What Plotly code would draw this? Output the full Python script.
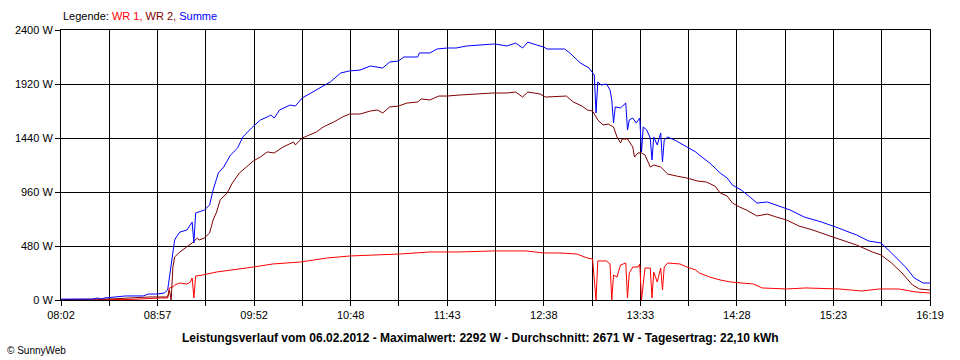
import plotly.graph_objects as go

# ---- data ----
SUMME_T = ["08:02","08:20","08:23","08:25","08:27","08:36","08:39","08:49","08:52","08:57",
           "09:01","09:03","09:05","09:07","09:08","09:10","09:14","09:17","09:18","09:19",
           "09:24","09:27","09:29","09:32","09:35","09:39","09:43","09:46","09:51","09:56",
           "10:00","10:02","10:04","10:07","10:13","10:16","10:20","10:26","10:31","10:36",
           "10:42","10:47","10:53","10:59","11:06","11:10","11:15","11:18","11:26","11:27",
           "11:33","11:37","11:43","11:48","11:54","12:02","12:10","12:17","12:22","12:26",
           "12:29","12:34","12:38","12:40","12:50","12:53","12:55","12:59","13:04","13:07",
           "13:08","13:09","13:11","13:14","13:16","13:17","13:18","13:19","13:22","13:25",
           "13:26","13:27","13:29","13:31","13:33","13:34","13:35","13:37","13:39","13:40",
           "13:41","13:43","13:45","13:46","13:47","13:49","13:54","14:00","14:05","14:07",
           "14:13","14:19","14:23","14:26","14:31","14:36","14:40","14:46","14:52","14:59",
           "15:07","15:17","15:25","15:37","15:44","15:51","15:57","16:05","16:10","16:15",
           "16:19"]
SUMME_W = [8,8,18,9,18,27,36,36,53,53,
           62,89,293,533,560,604,622,693,507,773,
           800,844,978,1129,1182,1289,1351,1449,1529,1600,
           1627,1644,1618,1689,1733,1724,1796,1849,1893,1938,
           2018,2036,2044,2080,2062,2116,2124,2160,2160,2196,
           2196,2231,2240,2240,2258,2267,2276,2258,2284,2240,
           2292,2267,2249,2231,2231,2196,2169,2107,2062,2000,
           1662,1938,1911,1920,1867,1778,1573,1716,1707,1751,
           1511,1600,1618,1573,1618,1316,1538,1511,1440,1244,
           1449,1378,1484,1227,1422,1449,1413,1360,1316,1289,
           1218,1129,1084,1022,978,916,862,871,836,800,
           738,693,649,578,524,507,418,293,196,151,
           151]

WR2_T = ["08:02","08:30","08:53","09:03","09:04","09:05","09:06","09:07","09:10","09:14",
         "09:17","09:20","09:21","09:24","09:27","09:29","09:31","09:33","09:37","09:40",
         "09:44","09:48","09:52","09:56","10:00","10:04","10:09","10:15","10:16","10:20",
         "10:28","10:32","10:38","10:43","10:47","10:53","10:59","11:03","11:06","11:10",
         "11:15","11:20","11:26","11:28","11:33","11:38","11:43","11:50","11:58","12:09",
         "12:17","12:22","12:26","12:29","12:36","12:39","12:51","12:55","13:00","13:03",
         "13:06","13:09","13:12","13:15","13:18","13:20","13:22","13:23","13:26","13:29",
         "13:30","13:32","13:34","13:36","13:39","13:41","13:45","13:49","13:54","14:00",
         "14:06","14:11","14:16","14:19","14:23","14:26","14:30","14:34","14:40","14:46",
         "14:51","14:57","15:04","15:12","15:20","15:27","15:37","15:46","15:51","15:57",
         "16:03","16:09","16:13","16:19"]
WR2_W = [4,9,27,27,89,0,293,382,427,471,
         507,551,533,551,596,711,782,889,951,1040,
         1129,1182,1236,1271,1316,1307,1360,1404,1378,1440,
         1493,1538,1582,1627,1653,1653,1680,1689,1662,1716,
         1724,1751,1760,1787,1778,1813,1813,1822,1831,1840,
         1840,1849,1804,1849,1831,1804,1813,1760,1724,1689,
         1680,1600,1556,1564,1538,1449,1396,1431,1431,1360,
         1271,1307,1307,1289,1182,1200,1182,1120,1102,1084,
         1058,1049,1013,951,924,862,827,800,747,764,
         738,711,658,622,578,542,489,427,400,329,
         240,133,98,89]

WR1_T = ["08:02","08:40","08:42","08:59","09:03","09:04","09:06","09:07","09:10","09:14",
         "09:16","09:17","09:18","09:19","09:23","09:31","09:40","09:52","10:03","10:19",
         "10:34","10:47","11:01","11:16","11:33","11:50","12:09","12:28","12:38","12:47",
         "12:57","13:03","13:06","13:08","13:09","13:14","13:16","13:17","13:18","13:20",
         "13:22","13:25","13:26","13:27","13:29","13:32","13:33","13:34","13:36","13:39",
         "13:40","13:41","13:43","13:45","13:46","13:47","13:49","13:56","14:00","14:05",
         "14:07","14:13","14:19","14:25","14:38","14:43","14:57","15:08","15:27","15:40",
         "15:50","16:01","16:11","16:19"]
WR1_W = [0,0,5,18,18,107,116,133,151,142,
         160,196,18,213,222,249,267,293,320,338,
         373,391,400,409,427,427,436,436,418,418,
         409,373,364,0,347,347,320,0,222,204,
         311,329,18,240,293,293,320,0,284,284,
         18,249,160,284,89,293,329,320,293,267,
         240,204,178,160,142,107,98,107,98,80,
         98,98,71,62]

TICK_LABELS = ["08:02","08:57","09:52","10:48","11:43","12:38","13:33","14:28","15:23","16:19"]
Y_TICKS = [0, 480, 960, 1440, 1920, 2400]

TITLE = ("Leistungsverlauf vom 06.02.2012 - Maximalwert: 2292 W - "
         "Durchschnitt: 2671 W - Tagesertrag: 22,10 kWh")


def to_min(s):
    h, m = s.split(":")
    return int(h) * 60 + int(m)


t0 = to_min(TICK_LABELS[0])
t1 = to_min(TICK_LABELS[-1])
n_int = 2 * (len(TICK_LABELS) - 1)
grid_vals = [t0 + k * (t1 - t0) / n_int for k in range(n_int + 1)]
grid_text = [TICK_LABELS[k // 2] if k % 2 == 0 else "" for k in range(n_int + 1)]

FONT = "Liberation Sans, Arial, sans-serif"

fig = go.Figure()
for name, tt, ww, col in [("WR 1", WR1_T, WR1_W, "#FF0000"),
                          ("WR 2", WR2_T, WR2_W, "#800000"),
                          ("Summe", SUMME_T, SUMME_W, "#0000FF")]:
    fig.add_trace(go.Scatter(x=[to_min(s) for s in tt], y=ww, mode="lines", name=name,
                             line=dict(color=col, width=1), hoverinfo="skip"))

fig.update_layout(
    width=960, height=360,
    margin=dict(l=61, r=30, t=30, b=60),
    paper_bgcolor="white", plot_bgcolor="white",
    showlegend=False,
    font=dict(family=FONT, size=11, color="black"),
)
fig.update_xaxes(range=[t0, t1], tickmode="array", tickvals=grid_vals, ticktext=grid_text,
                 showgrid=True, gridcolor="black", gridwidth=1,
                 showline=True, linecolor="black", linewidth=1, mirror=True,
                 ticks="outside", ticklen=5, tickcolor="black", zeroline=False,
                 tickfont=dict(size=11))
fig.update_yaxes(range=[0, 2400], tickmode="array", tickvals=Y_TICKS,
                 ticktext=[f"{v} W" for v in Y_TICKS],
                 showgrid=True, gridcolor="black", gridwidth=1,
                 showline=True, linecolor="black", linewidth=1, mirror=True,
                 ticks="outside", ticklen=5, tickcolor="black", zeroline=False,
                 tickfont=dict(size=11))

fig.add_annotation(xref="paper", yref="paper", x=0, y=1, yshift=6, xanchor="left", yanchor="bottom",
                   showarrow=False, font=dict(size=11),
                   text=('Legende: <span style="color:#FF0000">WR 1,</span> '
                         '<span style="color:#800000">WR 2,</span> '
                         '<span style="color:#0000FF">Summe</span>'))
fig.add_annotation(xref="paper", yref="paper", x=(480 - 61) / 869, y=0, yshift=-38,
                   xanchor="center", yanchor="middle", showarrow=False,
                   font=dict(size=12), text="<b>" + TITLE + "</b>")
fig.add_annotation(xref="paper", yref="paper", x=-56 / 869, y=0, yshift=-50,
                   xanchor="left", yanchor="middle", showarrow=False,
                   font=dict(size=10), text="© SunnyWeb")

fig.write_html("out.html", config={"displayModeBar": False},
               post_script="document.body.style.margin='0';document.body.style.overflow='hidden';")
